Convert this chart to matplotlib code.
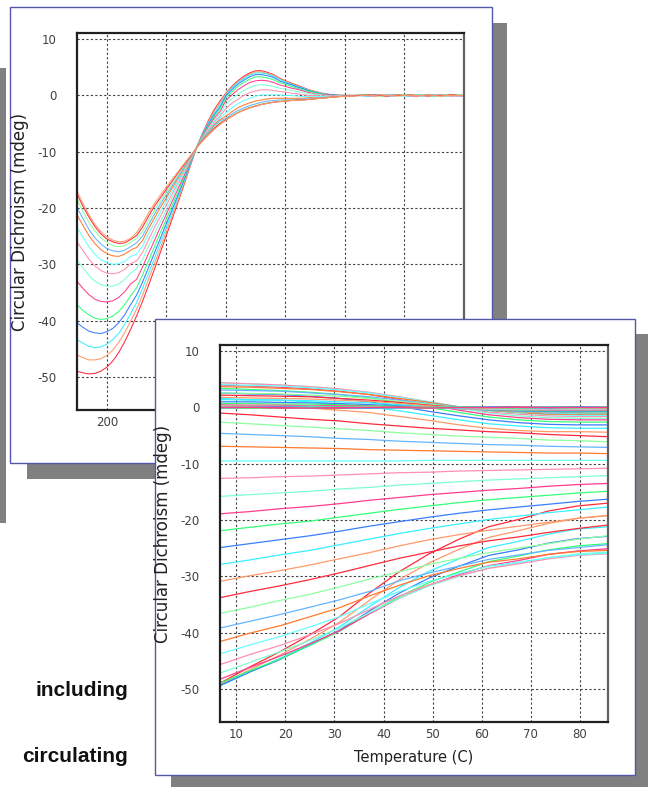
import matplotlib
matplotlib.use("Agg")
import matplotlib.pyplot as plt
from matplotlib.patches import Rectangle

plt.rcParams['axes.unicode_minus'] = False

# wavelength grid of the spectra (nm) and the temperatures of the melt (C)
wavelengths = list(range(195, 261))
temps = [6.7, 12.8, 18.9, 25.0, 31.0, 37.1, 43.2, 49.3, 55.4, 61.4, 67.5, 73.6, 79.6, 85.7]

# CD spectra (mdeg), one list per temperature, 195..260 nm
cd_t07 = [-49.0, -49.3, -49.5, -49.4, -49.0, -48.3, -47.2, -45.7, -43.8, -41.6,
          -39.2, -36.6, -33.8, -30.9, -27.9, -24.9, -21.9, -18.9, -15.8, -12.6,
          -9.5, -6.9, -4.6, -2.6, -1.0, 0.4, 1.6, 2.6, 3.4, 4.0,
          4.4, 4.4, 4.1, 3.7, 3.1, 2.6, 2.2, 1.8, 1.4, 1.0,
          0.7, 0.45, 0.25, 0.1, 0.05, 0.0, 0.0, 0.0, 0.1, 0.0,
          0.1, 0.0, -0.1, 0.0, 0.1, 0.0, 0.0, -0.1, 0.0, 0.1,
          0.0, 0.0, -0.1, 0.0, 0.0, 0.0]
cd_t13 = [-46.1, -46.6, -47.0, -47.0, -46.8, -46.2, -45.3, -43.9, -42.2, -40.1,
          -38.0, -35.5, -32.7, -29.9, -27.1, -24.2, -21.3, -18.5, -15.5, -12.5,
          -9.5, -7.0, -4.8, -2.9, -1.3, 0.3, 1.4, 2.4, 3.2, 3.8,
          4.2, 4.2, 3.9, 3.6, 3.0, 2.5, 2.1, 1.7, 1.3, 1.0,
          0.7, 0.4, 0.2, 0.1, 0.0, 0.0, 0.0, 0.0, 0.0, 0.1,
          0.0, 0.0, 0.1, -0.1, 0.0, 0.0, 0.1, 0.0, 0.0, -0.1,
          0.0, 0.1, 0.0, 0.0, -0.1, 0.0]
cd_t19 = [-43.4, -44.0, -44.6, -44.8, -44.7, -44.2, -43.4, -42.3, -40.7, -38.8,
          -36.8, -34.3, -31.7, -29.0, -26.2, -23.5, -20.7, -18.0, -15.2, -12.3,
          -9.5, -7.1, -5.0, -3.2, -1.7, 0.1, 1.3, 2.3, 3.0, 3.6,
          4.0, 4.0, 3.8, 3.4, 2.9, 2.4, 2.0, 1.6, 1.3, 0.9,
          0.6, 0.4, 0.2, 0.1, 0.0, 0.0, 0.0, 0.0, -0.1, 0.0,
          0.0, 0.1, 0.0, 0.0, 0.0, -0.1, 0.0, 0.1, 0.0, 0.0,
          -0.1, 0.0, 0.0, 0.1, 0.0, 0.0]
cd_t25 = [-40.4, -41.2, -41.9, -42.2, -42.3, -42.0, -41.4, -40.4, -39.0, -37.2,
          -35.5, -33.2, -30.6, -28.0, -25.4, -22.8, -20.2, -17.6, -14.9, -12.2,
          -9.5, -7.2, -5.2, -3.5, -2.1, -0.1, 1.0, 2.0, 2.7, 3.3,
          3.7, 3.7, 3.5, 3.2, 2.6, 2.2, 1.9, 1.5, 1.2, 0.8,
          0.6, 0.3, 0.2, 0.1, 0.0, 0.0, 0.0, 0.0, 0.0, 0.0,
          0.1, 0.0, 0.0, -0.1, 0.0, 0.1, 0.0, 0.0, -0.1, 0.0,
          0.0, 0.0, 0.1, 0.0, 0.0, -0.1]
cd_t31 = [-37.2, -38.2, -39.0, -39.6, -39.8, -39.7, -39.2, -38.4, -37.2, -35.6,
          -34.2, -31.9, -29.4, -26.9, -24.4, -22.0, -19.5, -17.1, -14.5, -12.0,
          -9.5, -7.3, -5.5, -3.8, -2.4, -0.5, 0.6, 1.6, 2.3, 2.9,
          3.3, 3.3, 3.1, 2.8, 2.3, 2.0, 1.6, 1.3, 1.0, 0.7,
          0.5, 0.3, 0.1, 0.0, 0.0, 0.0, 0.0, 0.0, 0.1, 0.0,
          0.0, -0.1, 0.0, 0.0, 0.1, 0.0, 0.0, 0.0, 0.1, 0.0,
          -0.1, 0.0, 0.0, 0.0, 0.1, 0.0]
cd_t37 = [-33.0, -34.3, -35.4, -36.2, -36.6, -36.7, -36.5, -35.9, -34.9, -33.5,
          -32.7, -30.5, -28.1, -25.8, -23.4, -21.1, -18.8, -16.5, -14.2, -11.8,
          -9.5, -7.5, -5.7, -4.1, -2.9, -0.9, 0.1, 1.0, 1.7, 2.3,
          2.6, 2.7, 2.6, 2.3, 1.9, 1.6, 1.3, 1.1, 0.8, 0.5,
          0.3, 0.2, 0.1, 0.0, 0.0, 0.0, 0.0, 0.0, 0.0, -0.1,
          0.0, 0.0, 0.1, 0.0, 0.0, 0.0, -0.1, 0.0, 0.0, 0.1,
          0.0, 0.0, 0.0, -0.1, 0.0, 0.0]
cd_t43 = [-29.2, -30.6, -32.0, -33.0, -33.6, -33.9, -33.9, -33.5, -32.7, -31.6,
          -30.8, -29.2, -26.8, -24.6, -22.4, -20.3, -18.1, -16.0, -13.8, -11.6,
          -9.5, -7.6, -6.0, -4.5, -3.3, -1.6, -0.6, 0.2, 0.9, 1.4,
          1.8, 1.9, 1.8, 1.6, 1.3, 1.1, 0.9, 0.7, 0.5, 0.3,
          0.2, 0.1, 0.0, -0.1, -0.1, -0.1, 0.0, 0.0, 0.0, 0.1,
          0.0, 0.0, 0.0, -0.1, 0.0, 0.0, 0.1, 0.0, 0.0, 0.0,
          0.1, 0.0, -0.1, 0.0, 0.0, 0.0]
cd_t49 = [-26.0, -27.6, -29.1, -30.3, -31.1, -31.6, -31.7, -31.5, -30.9, -29.9,
          -29.4, -27.9, -25.7, -23.5, -21.5, -19.5, -17.5, -15.5, -13.5, -11.5,
          -9.4, -7.7, -6.2, -4.8, -3.7, -2.3, -1.4, -0.7, 0.0, 0.5,
          0.8, 1.0, 1.0, 0.9, 0.7, 0.6, 0.4, 0.3, 0.1, 0.0,
          0.0, -0.1, -0.1, -0.1, -0.1, -0.1, -0.1, 0.0, 0.0, 0.0,
          -0.1, 0.0, 0.0, 0.1, 0.0, 0.0, 0.0, -0.1, 0.0, 0.0,
          0.0, 0.1, 0.0, 0.0, 0.0, -0.1]
cd_t55 = [-23.4, -25.2, -26.9, -28.2, -29.2, -29.7, -30.0, -29.9, -29.5, -28.6,
          -28.2, -26.8, -24.6, -22.6, -20.7, -18.8, -16.9, -15.1, -13.2, -11.3,
          -9.4, -7.8, -6.4, -5.1, -4.0, -3.1, -2.2, -1.5, -0.9, -0.5,
          -0.1, 0.1, 0.1, 0.1, 0.1, 0.0, 0.0, -0.1, -0.2, -0.2,
          -0.2, -0.2, -0.2, -0.2, -0.1, -0.1, -0.1, 0.0, 0.0, -0.1,
          0.0, 0.0, 0.1, 0.0, 0.0, -0.1, 0.0, 0.0, 0.1, 0.0,
          0.0, 0.0, -0.1, 0.0, 0.1, 0.0]
cd_t61 = [-21.2, -23.1, -24.9, -26.3, -27.4, -28.1, -28.5, -28.6, -28.2, -27.5,
          -27.0, -25.8, -23.7, -21.8, -19.9, -18.2, -16.4, -14.7, -12.9, -11.2,
          -9.4, -7.9, -6.6, -5.3, -4.3, -3.7, -2.9, -2.2, -1.7, -1.3,
          -1.0, -0.8, -0.6, -0.5, -0.5, -0.5, -0.5, -0.5, -0.5, -0.4,
          -0.4, -0.4, -0.3, -0.2, -0.2, -0.1, -0.1, 0.0, 0.0, 0.0,
          -0.1, 0.0, 0.0, 0.0, 0.1, 0.0, 0.0, -0.1, 0.0, 0.0,
          0.0, -0.1, 0.0, 0.1, 0.0, 0.0]
cd_t67 = [-19.9, -21.9, -23.8, -25.3, -26.4, -27.2, -27.6, -27.8, -27.5, -26.9,
          -26.2, -25.0, -23.0, -21.1, -19.3, -17.7, -16.0, -14.4, -12.7, -11.1,
          -9.4, -8.0, -6.7, -5.5, -4.5, -4.1, -3.3, -2.7, -2.2, -1.8,
          -1.5, -1.2, -1.0, -0.9, -0.8, -0.8, -0.7, -0.7, -0.6, -0.6,
          -0.5, -0.4, -0.4, -0.3, -0.2, -0.1, -0.1, 0.0, 0.0, -0.1,
          0.0, 0.0, 0.0, 0.1, 0.0, 0.0, -0.1, 0.0, 0.0, 0.0,
          0.1, 0.0, 0.0, 0.0, -0.1, 0.0]
cd_t73 = [-18.4, -20.6, -22.5, -24.1, -25.3, -26.1, -26.7, -26.9, -26.7, -26.1,
          -25.4, -24.2, -22.2, -20.4, -18.7, -17.2, -15.6, -14.0, -12.5, -11.0,
          -9.4, -8.1, -6.9, -5.8, -4.8, -4.3, -3.6, -3.0, -2.5, -2.1,
          -1.8, -1.5, -1.3, -1.2, -1.0, -0.9, -0.8, -0.8, -0.8, -0.7,
          -0.6, -0.5, -0.4, -0.3, -0.2, -0.1, -0.1, 0.0, 0.0, 0.0,
          0.0, -0.1, 0.0, 0.0, 0.0, 0.1, 0.0, 0.0, -0.1, 0.0,
          0.0, 0.0, 0.1, 0.0, 0.0, 0.0]
cd_t79 = [-17.5, -19.7, -21.6, -23.3, -24.6, -25.5, -26.0, -26.3, -26.2, -25.6,
          -24.9, -23.4, -21.5, -19.7, -18.2, -16.7, -15.2, -13.7, -12.3, -10.9,
          -9.4, -8.1, -7.0, -5.9, -5.0, -4.3, -3.7, -3.1, -2.6, -2.2,
          -1.9, -1.6, -1.4, -1.2, -1.1, -1.0, -0.9, -0.8, -0.8, -0.7,
          -0.6, -0.5, -0.4, -0.3, -0.2, -0.1, -0.1, 0.0, 0.0, 0.1,
          0.0, 0.0, -0.1, 0.0, 0.0, 0.0, 0.1, 0.0, 0.0, -0.1,
          0.0, 0.0, 0.0, 0.1, 0.0, 0.0]
cd_t85 = [-17.0, -19.2, -21.2, -22.9, -24.2, -25.1, -25.7, -26.0, -25.9, -25.4,
          -24.4, -22.8, -20.9, -19.2, -17.7, -16.3, -14.9, -13.5, -12.1, -10.8,
          -9.4, -8.2, -7.1, -6.1, -5.2, -4.4, -3.7, -3.1, -2.6, -2.2,
          -1.9, -1.6, -1.4, -1.2, -1.1, -1.0, -0.9, -0.9, -0.8, -0.7,
          -0.6, -0.5, -0.4, -0.3, -0.2, -0.2, -0.1, -0.1, 0.0, 0.0,
          0.0, 0.1, 0.0, 0.0, -0.1, 0.0, 0.0, 0.0, 0.0, 0.1,
          0.0, -0.1, 0.0, 0.0, 0.0, 0.0]

spectra = [cd_t07, cd_t13, cd_t19, cd_t25, cd_t31, cd_t37, cd_t43,
           cd_t49, cd_t55, cd_t61, cd_t67, cd_t73, cd_t79, cd_t85]

wl_ticks = [200, 210, 220, 230, 240, 250]
# only "200" shows on the back panel, the rest sit under the front panel
wl_tick_labels = ['200', '', '', '', '', '']
temp_ticks = [10, 20, 30, 40, 50, 60, 70, 80]
cd_ticks = [-50, -40, -30, -20, -10, 0, 10]

palette = ['#ff2a3c', '#ff9a6a', '#38f0ff', '#3a7dff', '#33ff77', '#ff3d8c',
           '#7dffd6', '#ff8fb0', '#66ffff', '#ff7a2e', '#66b3ff', '#8cff9e']

W, H = 648, 787
fig = plt.figure(figsize=(W / 100, H / 100), dpi=100)
fig.patch.set_facecolor('white')


def box(x0, y0, x1, y1):
    # pixel box (top-left origin) -> figure fraction [left, bottom, width, height]
    return [x0 / W, 1 - y1 / H, (x1 - x0) / W, (y1 - y0) / H]


def add_rect(x0, y0, x1, y1, z, face, edge=None):
    l, b, w, h = box(x0, y0, x1, y1)
    fig.add_artist(Rectangle((l, b), w, h, transform=fig.transFigure,
                             facecolor=face, edgecolor=edge or face,
                             linewidth=1.0 if edge else 0, zorder=z))


def style_axes(ax):
    ax.set_facecolor('white')
    ax.grid(True, color='#404040', linestyle=(0, (2, 2)), linewidth=0.8)
    ax.set_axisbelow(True)
    for side in ['top', 'left', 'bottom']:
        ax.spines[side].set_color('#202020')
        ax.spines[side].set_linewidth(1.6)
    ax.spines['right'].set_color('#606060')
    ax.spines['right'].set_linewidth(1.6)
    ax.set_ylim(-55.9, 11.1)
    ax.set_yticks(cd_ticks)
    ax.tick_params(axis='both', length=0, labelsize=8.5, labelcolor='#404040',
                   labelfontfamily='Liberation Sans Narrow')
    ax.tick_params(axis='y', pad=14.5)
    ax.tick_params(axis='x', pad=4)
    ax.set_ylabel('Circular Dichroism (mdeg)', fontsize=12, color='#202020',
                  family='DejaVu Sans')
    ax.yaxis.set_label_coords(-0.125, 0.5)


# left grey strip from the slide behind
add_rect(0, 68, 5.5, 523, 0.5, '#808080')

# back panel: spectra at each temperature
add_rect(27, 23, 507, 479, 1, '#808080')
add_rect(10, 7, 492, 463, 2, 'white', '#5555aa')
ax1 = fig.add_axes(box(77, 33, 464, 410), zorder=3)
for i, spec in enumerate(spectra):
    ax1.plot(wavelengths, spec, color=palette[i % len(palette)], linewidth=0.75)
ax1.set_xlim(wavelengths[0], wavelengths[-1])
ax1.set_xticks(wl_ticks, labels=wl_tick_labels)
style_axes(ax1)

# front panel: CD at each wavelength versus temperature
add_rect(171, 334, 648, 787, 4, '#808080')
add_rect(155, 319, 635, 775, 5, 'white', '#5555aa')
ax2 = fig.add_axes(box(220, 345, 608, 722), zorder=6)
for j, wl in enumerate(wavelengths):
    ax2.plot(temps, [spec[j] for spec in spectra],
             color=palette[j % len(palette)], linewidth=0.9)
ax2.set_xlim(temps[0], temps[-1])
ax2.set_xticks(temp_ticks)
style_axes(ax2)
ax2.set_xlabel('Temperature (C)', fontsize=10.5, color='#202020', family='DejaVu Sans')
ax2.xaxis.set_label_coords(0.5, -0.075)

# slide text peeking out at the left
fig.text(128 / W, 1 - 691 / H, 'including', ha='right', va='center',
         fontsize=15, fontweight='bold', family=['Liberation Sans', 'DejaVu Sans'],
         color='#111111', zorder=0.5)
fig.text(128 / W, 1 - 757 / H, 'circulating', ha='right', va='center',
         fontsize=15, fontweight='bold', family=['Liberation Sans', 'DejaVu Sans'],
         color='#111111', zorder=0.5)

fig.savefig('out.png', dpi=100)
